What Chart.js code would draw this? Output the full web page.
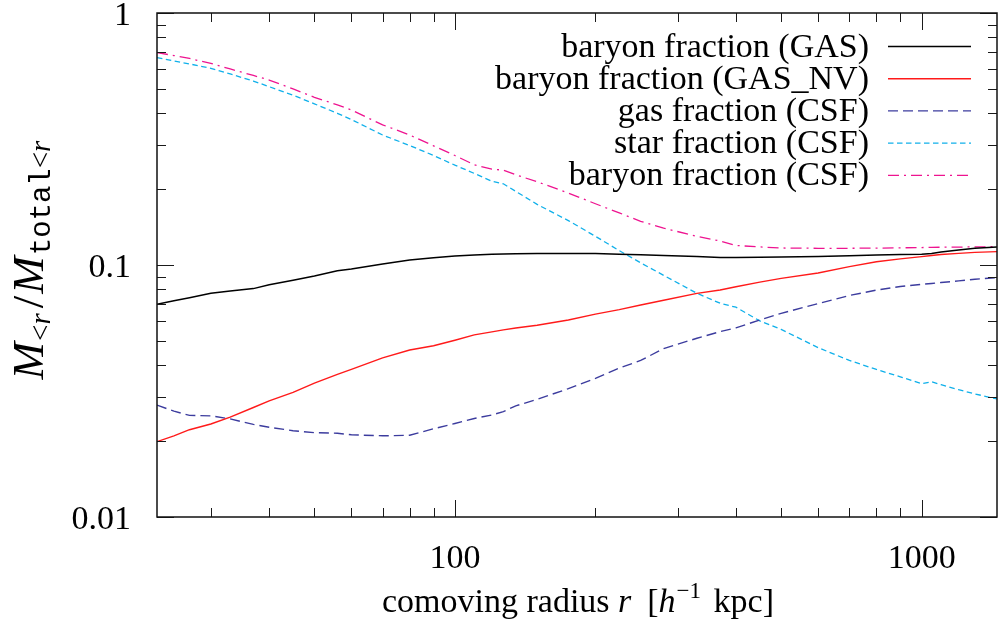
<!DOCTYPE html>
<html>
<head>
<meta charset="utf-8">
<title>Baryon fraction profiles</title>
<script src="https://cdn.jsdelivr.net/npm/chart.js@4.4.1/dist/chart.umd.min.js"></script>
<style>
  body { margin: 0; background: #fff; }
  #wrap { width: 998px; height: 622px; }
</style>
</head>
<body>
<div id="wrap"><canvas id="fracChart" width="998" height="622"></canvas></div>
<script>
// comoving radius [h^-1 kpc] shared by every profile
const radius = [23, 25, 27, 30, 33, 37, 40, 45, 50, 56, 60, 70, 80, 90, 100, 110, 120, 127, 135, 150,
  175, 200, 225, 250, 280, 330, 370, 400, 450, 500, 600, 700, 800, 900, 1000, 1050, 1100, 1200, 1300, 1450];

// M(<r) / Mtotal(<r)
const baryonGas = [0.0698, 0.0722, 0.0742, 0.0772, 0.0788, 0.0806, 0.0835, 0.087, 0.0905, 0.0949, 0.0965, 0.101, 0.1047, 0.1068, 0.1085, 0.1095, 0.1102, 0.1105, 0.1107, 0.111,
  0.1112, 0.111, 0.1103, 0.1097, 0.109, 0.108, 0.1072, 0.1072, 0.1073, 0.1075, 0.108, 0.1087, 0.1095, 0.11, 0.1104, 0.1112, 0.1125, 0.1148, 0.1165, 0.1178];
const baryonGasNv = [0.0199, 0.021, 0.0222, 0.0234, 0.0249, 0.0272, 0.0289, 0.0312, 0.034, 0.0368, 0.0385, 0.0428, 0.046, 0.0478, 0.0503, 0.0528, 0.0543, 0.0553, 0.0562, 0.0577,
  0.0605, 0.0638, 0.0665, 0.0694, 0.0725, 0.0772, 0.0796, 0.082, 0.0855, 0.0885, 0.093, 0.0985, 0.103, 0.1058, 0.108, 0.109, 0.11, 0.1112, 0.1122, 0.113];
const gasCsf = [0.0278, 0.0263, 0.0253, 0.0252, 0.0245, 0.0233, 0.0227, 0.022, 0.0216, 0.0215, 0.0212, 0.021, 0.0211, 0.0224, 0.0235, 0.0246, 0.0254, 0.0262, 0.0276, 0.0293,
  0.0323, 0.0355, 0.039, 0.0418, 0.0466, 0.0512, 0.0544, 0.0563, 0.0605, 0.0643, 0.0703, 0.0757, 0.0795, 0.0822, 0.0838, 0.0845, 0.0852, 0.0865, 0.0878, 0.0891];
const starCsf = [0.665, 0.645, 0.628, 0.603, 0.573, 0.537, 0.51, 0.472, 0.436, 0.4, 0.378, 0.328, 0.298, 0.272, 0.249, 0.231, 0.215, 0.21, 0.196, 0.174,
  0.15, 0.13, 0.114, 0.102, 0.091, 0.0772, 0.0705, 0.068, 0.06, 0.0555, 0.047, 0.0418, 0.0385, 0.036, 0.0338, 0.0344, 0.0335, 0.032, 0.0308, 0.0294];
const baryonCsf = [0.696, 0.678, 0.66, 0.631, 0.6, 0.565, 0.542, 0.5, 0.463, 0.432, 0.412, 0.36, 0.328, 0.297, 0.272, 0.25, 0.24, 0.238, 0.228, 0.214,
  0.193, 0.175, 0.161, 0.149, 0.14, 0.13, 0.1245, 0.1195, 0.118, 0.1168, 0.1165, 0.1165, 0.1167, 0.117, 0.1173, 0.1175, 0.1176, 0.1178, 0.118, 0.1182];

const seriesLabels = ['baryon fraction (GAS)', 'baryon fraction (GAS_NV)', 'gas fraction (CSF)', 'star fraction (CSF)', 'baryon fraction (CSF)'];

// tick positions, labels only on the decades
const xMajorTicks = [100, 1000];
const xMinorTicks = [30, 40, 50, 60, 70, 80, 90, 200, 300, 400, 500, 600, 700, 800, 900];
const yMajorTicks = [0.01, 0.1, 1];
const yMinorTicks = [0.02, 0.03, 0.04, 0.05, 0.06, 0.07, 0.08, 0.09, 0.2, 0.3, 0.4, 0.5, 0.6, 0.7, 0.8, 0.9];

const SERIF = '"Liberation Serif", "Times New Roman", serif';
const MONO = '"Liberation Mono", "DejaVu Sans Mono", monospace';

function toPoints(values) {
    return radius.map((r, i) => ({ x: r, y: values[i] }));
}

function makeTicks(majors, minors) {
    return [...majors, ...minors].sort((a, b) => a - b).map(v => ({ value: v, major: majors.includes(v) }));
}

// keep the tick labels from pushing the plot area in
function noLabelOverflow(scale) {
    scale.paddingTop = 0;
    scale.paddingBottom = 0;
    scale.paddingLeft = 0;
    scale.paddingRight = 0;
}

// box around the plot with inward ticks on all four sides
const frameTicks = {
    id: 'frameTicks',
    afterDatasetsDraw(chart) {
        const { ctx, chartArea: a, scales: { x, y } } = chart;
        ctx.save();
        ctx.strokeStyle = '#1a1a1a';
        ctx.lineWidth = 1;
        ctx.beginPath();
        [...xMajorTicks, ...xMinorTicks].forEach(v => {
            const px = Math.round(x.getPixelForValue(v)) + 0.5;
            const len = xMajorTicks.includes(v) ? 17 : 9;
            ctx.moveTo(px, a.bottom); ctx.lineTo(px, a.bottom - len);
            ctx.moveTo(px, a.top); ctx.lineTo(px, a.top + len);
        });
        [...yMajorTicks, ...yMinorTicks].forEach(v => {
            const py = Math.round(y.getPixelForValue(v)) + 0.5;
            const len = yMajorTicks.includes(v) ? 17 : 9;
            ctx.moveTo(a.left, py); ctx.lineTo(a.left + len, py);
            ctx.moveTo(a.right, py); ctx.lineTo(a.right - len, py);
        });
        ctx.stroke();
        ctx.lineWidth = 1.5;
        ctx.strokeStyle = '#111';
        ctx.strokeRect(a.left, a.top, a.right - a.left, a.bottom - a.top);
        ctx.restore();
    }
};

// draws a run of differently styled text pieces starting at x, returns end x
function drawRun(ctx, pieces, x, baseY) {
    pieces.forEach(p => {
        ctx.font = p.font;
        ctx.fillText(p.text, x, baseY + (p.dy || 0));
        x += ctx.measureText(p.text).width + (p.gap || 0);
    });
    return x;
}

function runWidth(ctx, pieces) {
    let w = 0;
    pieces.forEach(p => {
        ctx.font = p.font;
        w += ctx.measureText(p.text).width + (p.gap || 0);
    });
    return w;
}

// legend with right-aligned labels and the line sample on the right, plus axis titles
const legendAndTitles = {
    id: 'legendAndTitles',
    afterDraw(chart) {
        const { ctx } = chart;
        ctx.save();
        ctx.fillStyle = '#000';
        ctx.textBaseline = 'alphabetic';

        // legend
        ctx.font = `34px ${SERIF}`;
        chart.data.datasets.forEach((ds, i) => {
            const rowY = 46.5 + i * 32.2;
            ctx.textAlign = 'right';
            ctx.fillText(ds.label, 869, rowY + 10);
            ctx.strokeStyle = ds.borderColor;
            ctx.lineWidth = ds.borderWidth;
            ctx.setLineDash(ds.borderDash || []);
            ctx.beginPath();
            ctx.moveTo(888, rowY);
            ctx.lineTo(971, rowY);
            ctx.stroke();
        });
        ctx.setLineDash([]);
        ctx.textAlign = 'left';

        // x title: comoving radius r [h^-1 kpc]
        const xPieces = [
            { text: 'comoving radius ', font: `34px ${SERIF}` },
            { text: 'r', font: `italic 34px ${SERIF}`, gap: 16 },
            { text: '[', font: `34px ${SERIF}` },
            { text: 'h', font: `italic 34px ${SERIF}`, gap: 1 },
            { text: '\u22121', font: `23px ${SERIF}`, dy: -14, gap: 4 },
            { text: ' kpc]', font: `34px ${SERIF}` }
        ];
        const xw = runWidth(ctx, xPieces);
        drawRun(ctx, xPieces, 578 - xw / 2, 612);

        // y title: M_<r / M_total<r, rotated
        const yPieces = [
            { text: 'M', font: `italic 45px ${SERIF}`, gap: 1 },
            { text: '<', font: `29px ${SERIF}`, dy: 7 },
            { text: 'r', font: `italic 29px ${SERIF}`, dy: 7, gap: 5 },
            { text: '/', font: `45px ${SERIF}`, gap: 2 },
            { text: 'M', font: `italic 45px ${SERIF}`, gap: 1 },
            { text: 'total', font: `29px ${MONO}`, dy: 7 },
            { text: '<', font: `29px ${SERIF}`, dy: 7 },
            { text: 'r', font: `italic 29px ${SERIF}`, dy: 7 }
        ];
        const yw = runWidth(ctx, yPieces);
        ctx.translate(43, 260);
        ctx.rotate(-Math.PI / 2);
        drawRun(ctx, yPieces, -yw / 2, 0);
        ctx.restore();
    }
};

const ctx = document.getElementById('fracChart').getContext('2d');

new Chart(ctx, {
    type: 'line',
    data: {
        datasets: [
            { label: seriesLabels[0], data: toPoints(baryonGas), borderColor: '#000000', borderWidth: 1.5 },
            { label: seriesLabels[1], data: toPoints(baryonGasNv), borderColor: '#ff1a1a', borderWidth: 1.4 },
            { label: seriesLabels[2], data: toPoints(gasCsf), borderColor: '#3c3c9e', borderWidth: 1.4, borderDash: [10, 5] },
            { label: seriesLabels[3], data: toPoints(starCsf), borderColor: '#10b0ea', borderWidth: 1.3, borderDash: [5.5, 3.5] },
            { label: seriesLabels[4], data: toPoints(baryonCsf), borderColor: '#ee1490', borderWidth: 1.3, borderDash: [11, 5, 2, 5] }
        ]
    },
    options: {
        responsive: false,
        animation: false,
        devicePixelRatio: 1,
        layout: { padding: { top: 13, right: 1, left: 0, bottom: 0 } },
        elements: { point: { radius: 0 }, line: { tension: 0 } },
        plugins: {
            legend: { display: false },
            tooltip: { enabled: false }
        },
        scales: {
            x: {
                type: 'logarithmic',
                min: 23,
                max: 1450,
                bounds: 'data',
                grid: { display: false },
                border: { display: false },
                afterBuildTicks: (scale) => { scale.ticks = makeTicks(xMajorTicks, xMinorTicks); },
                afterFit: (scale) => { scale.height = 105; noLabelOverflow(scale); },
                ticks: {
                    autoSkip: false,
                    maxRotation: 0,
                    padding: 14,
                    color: '#000',
                    font: { family: SERIF, size: 34 },
                    callback: (value) => xMajorTicks.includes(value) ? String(value) : ''
                }
            },
            y: {
                type: 'logarithmic',
                min: 0.01,
                max: 1,
                bounds: 'data',
                grid: { display: false },
                border: { display: false },
                afterBuildTicks: (scale) => { scale.ticks = makeTicks(yMajorTicks, yMinorTicks); },
                afterFit: (scale) => { scale.width = 157; noLabelOverflow(scale); },
                ticks: {
                    autoSkip: false,
                    padding: 18,
                    labelOffset: 3,
                    color: '#000',
                    font: { family: SERIF, size: 34 },
                    callback: (value) => yMajorTicks.includes(value) ? String(value) : ''
                }
            }
        }
    },
    plugins: [frameTicks, legendAndTitles]
});
</script>
</body>
</html>
